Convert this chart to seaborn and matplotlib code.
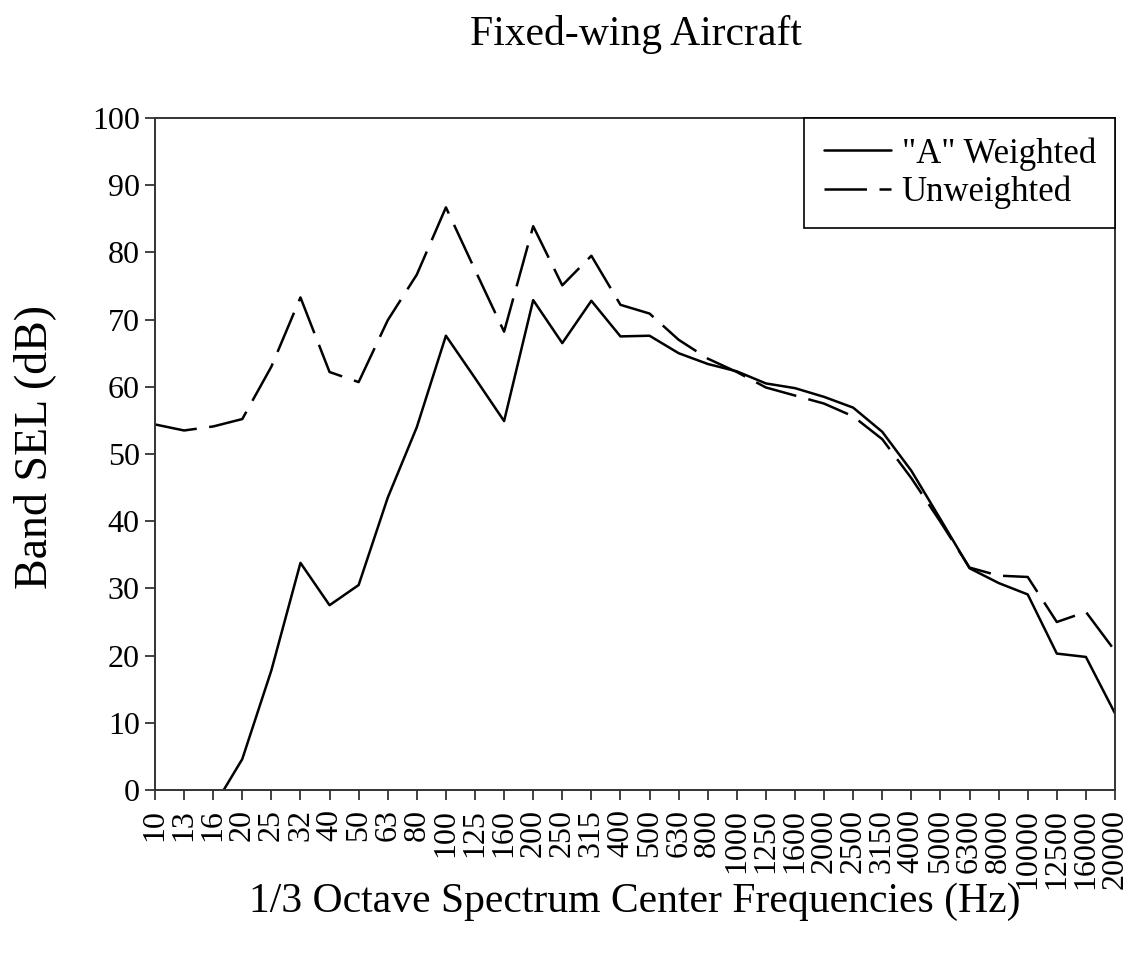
import matplotlib
matplotlib.use("Agg")
import matplotlib.pyplot as plt
import pandas as pd
import seaborn as sns

# 1/3 octave centre frequencies (Hz)
freqs = ['10', '13', '16', '20', '25', '32', '40', '50', '63', '80', '100',
         '125', '160', '200', '250', '315', '400', '500', '630', '800',
         '1000', '1250', '1600', '2000', '2500', '3150', '4000', '5000',
         '6300', '8000', '10000', '12500', '16000', '20000']

# band SEL, dB
a_weighted = [-16.0, -9.9, -2.6, 4.6, 17.8, 33.8, 27.5, 30.5, 43.5, 54.0, 67.6,
              61.3, 54.9, 72.9, 66.5, 72.8, 67.5, 67.6, 65.0, 63.4, 62.3,
              60.5, 59.8, 58.5, 56.9, 53.3, 47.5, 40.3, 33.0, 30.8, 29.1,
              20.3, 19.8, 11.4]
unweighted = [54.4, 53.5, 54.1, 55.2, 63.0, 73.3, 62.2, 60.7, 69.9, 76.7, 86.7,
              77.4, 68.2, 83.9, 75.1, 79.5, 72.2, 70.9, 67.0, 64.2, 62.2,
              59.9, 58.7, 57.5, 55.6, 52.2, 46.4, 39.9, 33.1, 31.9, 31.7,
              25.0, 26.5, 20.7]

series_names = ['"A" Weighted', 'Unweighted']

df = pd.DataFrame({
    'pos': list(range(len(freqs))) * 2,
    'SEL': a_weighted + unweighted,
    'series': [series_names[0]] * len(freqs) + [series_names[1]] * len(freqs),
})

sns.set_theme(style="ticks", rc={'text.color': 'black', 'axes.labelcolor': 'black',
                                 'xtick.color': 'black', 'ytick.color': 'black'})
plt.rcParams['font.family'] = ['Liberation Serif', 'DejaVu Serif']

fig, ax = plt.subplots(figsize=(11.33, 9.58), dpi=100)
fig.subplots_adjust(left=155 / 1133, right=1115 / 1133,
                    top=1 - 118 / 958, bottom=1 - 790 / 958)

sns.lineplot(
    data=df, x='pos', y='SEL', style='series', color='black',
    dashes={series_names[0]: '', series_names[1]: (17, 5)},
    linewidth=1.8, sort=False, ax=ax, legend=False,
)

ax.set_xlim(0, len(freqs) - 1)
ax.set_ylim(0, 100)
ax.set_yticks(range(0, 101, 10))
ax.set_xticks(range(len(freqs)))
ax.set_xticklabels(freqs, rotation=90)
ax.tick_params(axis='both', labelsize=23, length=7, width=1.3,
               direction='out', color='#333333')
ax.tick_params(axis='y', pad=4)
ax.tick_params(axis='x', pad=7)

for sp in ax.spines.values():
    sp.set_visible(True)
    sp.set_color('#333333')
    sp.set_linewidth(1.4)

ax.set_xlabel('1/3 Octave Spectrum Center Frequencies (Hz)', fontsize=30)
ax.set_ylabel('Band SEL (dB)', fontsize=33)
ax.xaxis.set_label_coords(0.5, -0.138)
ax.yaxis.set_label_coords(-0.103, 0.51)

fig.text(0.561, 1 - 34 / 958, 'Fixed-wing Aircraft', fontsize=30,
         ha='center', va='center')

leg = ax.legend(handles=ax.lines, labels=series_names, loc='upper right',
                fontsize=25, frameon=True, fancybox=False, framealpha=1,
                edgecolor='black', borderaxespad=0, handlelength=1.95,
                handletextpad=0.3, borderpad=0.55, labelspacing=0.15)
leg.get_frame().set_linewidth(1.2)

fig.savefig('out.png', dpi=100)
